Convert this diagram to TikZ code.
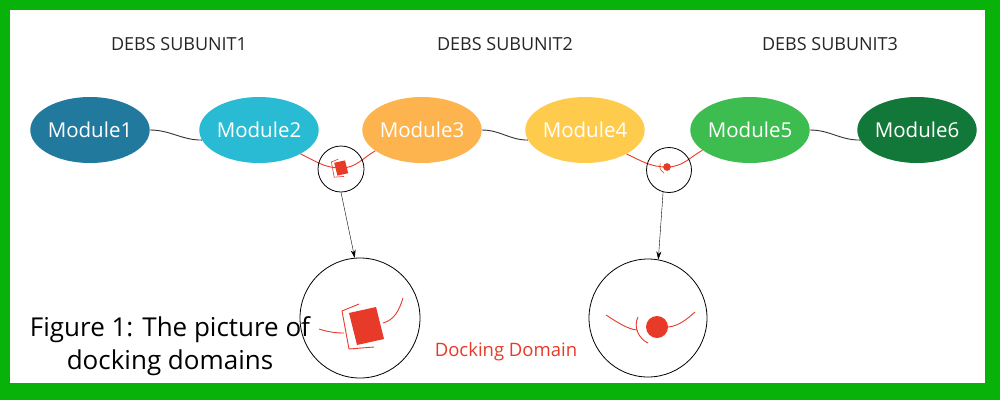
\documentclass[tikz,border=0pt]{standalone}
\usepackage{fontspec}
\setmainfont{Open Sans}
\usetikzlibrary{shapes.geometric,arrows.meta}
\definecolor{framegreen}{RGB}{8,178,8}
\definecolor{modA}{RGB}{33,121,158}
\definecolor{modB}{RGB}{41,187,211}
\definecolor{modC}{RGB}{253,180,78}
\definecolor{modD}{RGB}{255,203,76}
\definecolor{modE}{RGB}{61,189,80}
\definecolor{modF}{RGB}{18,120,58}
\definecolor{dockred}{RGB}{232,58,40}
\tikzset{
  module/.style={ellipse,minimum width=118pt,minimum height=66pt,inner sep=0pt,text=white,font=\fontsize{20.5}{24}\selectfont},
  unit/.style={font=\fontsize{18}{21}\selectfont,text=black!85},
  wave/.style={line width=0.9pt,draw=black!80},
  dockline/.style={draw=dockred,line width=0.9pt},
  lens/.style={circle,draw,line width=0.8pt,inner sep=0pt}
}
\begin{document}
\begin{tikzpicture}[x=1pt,y=-1pt,>={Stealth[length=8pt,width=5pt]}]
\useasboundingbox (0,0) rectangle (1000,400);
\fill[framegreen] (0,0) rectangle (1000,400);
\fill[white] (10,10) rectangle (985,383);
\node[unit] (u1) at (179,44) {DEBS SUBUNIT1};
\node[unit] (u2) at (505,44) {DEBS SUBUNIT2};
\node[unit] (u3) at (830,44) {DEBS SUBUNIT3};
\node[module,fill=modA] (m1) at (90,130) {Module1};
\node[module,fill=modB] (m2) at (259,130) {Module2};
\node[module,fill=modC] (m3) at (422,130) {Module3};
\node[module,fill=modD] (m4) at (585,130) {Module4};
\node[module,fill=modE] (m5) at (750,130) {Module5};
\node[module,fill=modF] (m6) at (917,130) {Module6};
\draw[wave] (m1.east) to[out=0,in=180] (m2.190);
\draw[wave] (m3.east) to[out=0,in=180] (m4.190);
\draw[wave] (m5.east) to[out=0,in=180] (m6.190);
\coordinate (d1) at (341,168);
\coordinate (d2) at (667,167);
\draw[dockline] (m2.-30) to[out=-25,in=180] (d1) to[out=0,in=-150] (m3.204);
\draw[dockline] (m4.-30) to[out=-25,in=180] (d2) to[out=0,in=-150] (m5.203);
\node[lens,minimum size=46pt] (s1) at (341,169) {};
\node[lens,minimum size=45pt] (s2) at (669,170) {};
\node[lens,minimum size=120pt] (b1) at (360,318) {};
\node[lens,minimum size=118pt] (b2) at (648,318) {};
\draw[->] (s1.south) -- (b1.95);
\draw[->] (s2.-105) -- (b2.80);
\begin{scope}[shift={(341,168)},scale=0.4]
  \draw[dockred,line width=0.6pt] (-7,-22) -- (-24,-15) -- (-17,23) -- (8,21);
  \fill[dockred] (-17,-13) -- (10,-19) -- (18,13) -- (-9,19) -- cycle;
\end{scope}
\begin{scope}[shift={(667,167)},scale=0.35]
  \draw[dockred,line width=0.6pt] (-19,-10) .. controls (-24,0) and (-18,12) .. (-9,16);
  \fill[dockred] (0,0) circle[radius=11];
\end{scope}
\begin{scope}[shift={(366,326)}]
  \draw[dockline] (-47,3) .. controls (-38,6) and (-30,7) .. (-22,7);
  \draw[dockline] (-7,-22) -- (-24,-15) -- (-17,23) -- (8,21);
  \fill[dockred] (-17,-13) -- (10,-19) -- (18,13) -- (-9,19) -- cycle;
  \draw[dockline] (17,-3) .. controls (28,-6) and (33,-15) .. (37,-28);
\end{scope}
\begin{scope}[shift={(657,327)}]
  \draw[dockline] (-51,-12) .. controls (-40,-5) and (-30,2) .. (-20,3);
  \draw[dockline] (-19,-10) .. controls (-24,0) and (-18,12) .. (-9,16);
  \fill[dockred] (0,0) circle[radius=11];
  \draw[dockline] (11,0) .. controls (22,-1) and (30,-8) .. (38,-15);
\end{scope}
\node[font=\fontsize{26}{33}\selectfont,align=center] (cap) at (170,346) {Figure 1: The picture of\\docking domains};
\node[font=\fontsize{18.5}{22}\selectfont,text=dockred] (dd) at (506,352) {Docking Domain};
\end{tikzpicture}
\end{document}
